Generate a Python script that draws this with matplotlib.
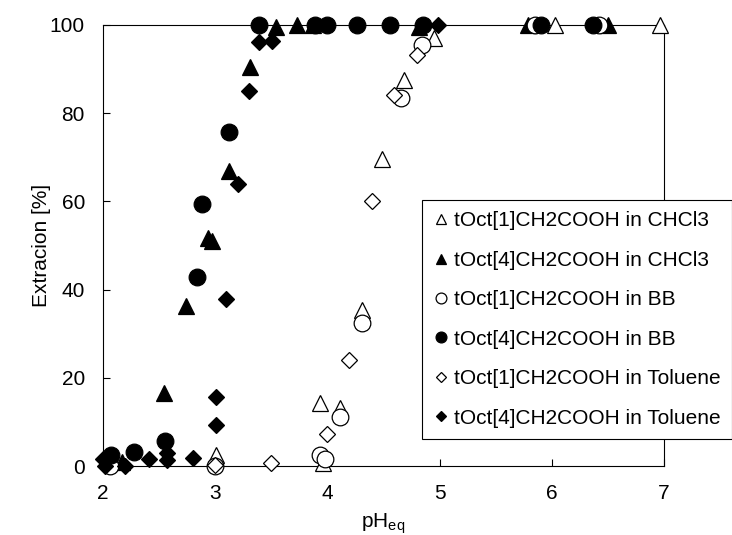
import matplotlib
matplotlib.use("Agg")
import matplotlib.pyplot as plt

plt.rcParams["font.family"] = ["Liberation Sans", "DejaVu Sans"]
plt.rcParams["mathtext.default"] = "regular"

# Extraction vs. equilibrium pH for each extractant / diluent system
ph_c1_chcl3 = [3.01, 3.93, 3.96, 4.11, 4.31, 4.49, 4.68, 4.95, 6.03, 6.96]
ext_c1_chcl3 = [2.5, 14.3, 0.7, 13.2, 35.4, 69.6, 87.5, 97.0, 100, 100]

ph_c4_chcl3 = [2.17, 2.54, 2.74, 2.94, 2.97, 3.12, 3.31, 3.54, 3.73, 3.87, 4.82, 5.79, 6.50]
ext_c4_chcl3 = [1.0, 16.5, 36.2, 51.7, 51.0, 67.0, 90.5, 99.6, 100, 100, 99.5, 100, 100]

ph_c1_bb = [2.06, 3.00, 3.93, 3.98, 4.11, 4.31, 4.66, 4.84, 5.85, 6.42]
ext_c1_bb = [0.0, 0.0, 2.5, 1.6, 11.1, 32.4, 83.4, 95.5, 100, 100]

ph_c4_bb = [2.07, 2.28, 2.55, 2.84, 2.88, 3.12, 3.39, 3.89, 4.00, 4.26, 4.56, 4.85, 5.90, 6.37]
ext_c4_bb = [2.5, 3.2, 5.6, 42.9, 59.4, 75.7, 100, 100, 100, 100, 100, 100, 100, 100]

ph_c1_tol = [3.00, 3.50, 4.00, 4.19, 4.40, 4.59, 4.80]
ext_c1_tol = [0.3, 0.7, 7.2, 24.0, 60.1, 84.1, 93.2]

ph_c4_tol = [2.00, 2.02, 2.20, 2.41, 2.57, 2.57, 2.80, 3.01, 3.01, 3.10, 3.20, 3.30, 3.39, 3.51, 4.99]
ext_c4_tol = [1.5, 0.0, 0.0, 1.5, 3.0, 1.3, 1.8, 9.3, 15.7, 37.9, 64.0, 85.0, 96.1, 96.3, 100]

series = [
    (ph_c1_chcl3, ext_c1_chcl3, "^", 11.5, "white", "tOct[1]CH2COOH in CHCl3"),
    (ph_c4_chcl3, ext_c4_chcl3, "^", 11.5, "black", "tOct[4]CH2COOH in CHCl3"),
    (ph_c1_bb, ext_c1_bb, "o", 12, "white", "tOct[1]CH2COOH in BB"),
    (ph_c4_bb, ext_c4_bb, "o", 12, "black", "tOct[4]CH2COOH in BB"),
    (ph_c1_tol, ext_c1_tol, "D", 8.4, "white", "tOct[1]CH2COOH in Toluene"),
    (ph_c4_tol, ext_c4_tol, "D", 8.4, "black", "tOct[4]CH2COOH in Toluene"),
]

fig = plt.figure(figsize=(7.32, 5.35), dpi=100)
ax = fig.add_axes([103 / 732, 69 / 535, 561 / 732, 441 / 535])

for i, (x, y, mk, ms, face, label) in enumerate(series):
    ax.plot(x, y, linestyle="none", marker=mk, markersize=ms,
            markerfacecolor=face, markeredgecolor="black", markeredgewidth=0.9,
            clip_on=False, zorder=3 + i, label=label)

ax.set_xlim(2, 7)
ax.set_ylim(0, 100)
ax.set_xticks(range(2, 8))
ax.set_yticks(range(0, 101, 20))

for side in ["left", "bottom", "top", "right"]:
    ax.spines[side].set_color("black")
    ax.spines[side].set_linewidth(0.8)

ax.tick_params(axis="x", direction="in", length=5, width=0.8, labelsize=15, pad=13)
ax.tick_params(axis="y", direction="in", length=5, width=0.8, labelsize=15, pad=13)

ax.set_xlabel("pH$_{eq}$", fontsize=15, labelpad=6)
ax.set_ylabel("Extracion [%]", fontsize=15, labelpad=-1)

leg = ax.legend(loc="upper left", bbox_to_anchor=(422 / 732, 1 - 200 / 535),
                bbox_transform=fig.transFigure, fontsize=15, markerscale=0.65,
                frameon=True, fancybox=False, framealpha=1, edgecolor="black",
                borderpad=0.55, labelspacing=0.98, handlelength=0.73,
                handletextpad=0.25, borderaxespad=0)
leg.get_frame().set_linewidth(0.8)
leg.set_zorder(20)

fig.savefig("out.png", dpi=100)
